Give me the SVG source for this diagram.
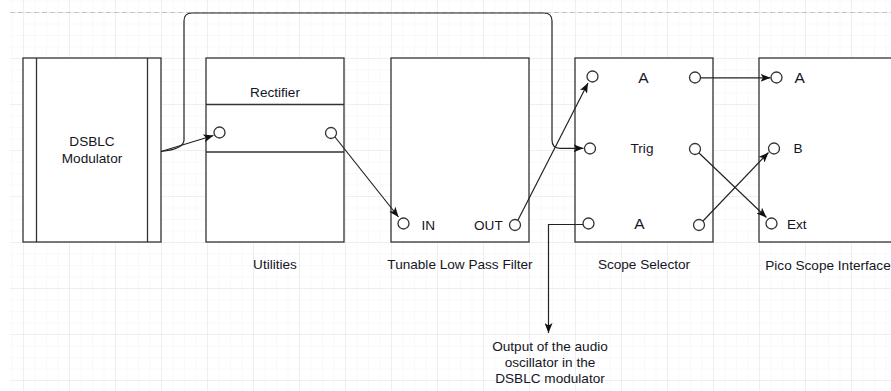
<svg xmlns="http://www.w3.org/2000/svg" width="891" height="391" viewBox="0 0 891 391">
<style>
.box{fill:#ffffff;stroke:#333333;stroke-width:1.3}
.ln{fill:none;stroke:#333333;stroke-width:1.3}
.port{fill:#ffffff;stroke:#333333;stroke-width:1.3}
.edge{fill:none;stroke:#222222;stroke-width:1.2}
text{font-family:"Liberation Sans",Arial,sans-serif;font-size:13.6px;fill:#151525}
.c{text-anchor:middle}
.big{font-size:15.5px}
</style>
<defs>
<pattern id="minor" patternUnits="userSpaceOnUse" x="11.5" y="0.5" width="11.5" height="11.5">
<path d="M0,0 H11.5 M0,0 V11.5" fill="none" stroke="#f3f3f3" stroke-width="1"/>
</pattern>
<pattern id="major" patternUnits="userSpaceOnUse" x="23" y="12" width="46" height="46">
<path d="M0,0 H46 M0,0 V46" fill="none" stroke="#e6e6e6" stroke-width="1"/>
</pattern>
<marker id="arr" markerUnits="userSpaceOnUse" markerWidth="10" markerHeight="8" refX="10" refY="4" orient="auto">
<path d="M0,0 L10,4 L0,8 L2.5,4 z" fill="#111111"/>
</marker>
</defs>
<rect x="0" y="0" width="891" height="391" fill="#ffffff"/>
<rect x="10" y="0" width="881" height="391" fill="url(#minor)"/>
<rect x="10" y="0" width="881" height="391" fill="url(#major)"/>
<line x1="10" y1="12.5" x2="891" y2="12.5" stroke="#c4c4c4" stroke-width="1" stroke-dasharray="5 3"/>

<g id="dsblc">
<rect class="box" x="23" y="58" width="138" height="184"/>
<line class="ln" x1="36.5" y1="58" x2="36.5" y2="242"/>
<line class="ln" x1="147.5" y1="58" x2="147.5" y2="242"/>
<text class="c" x="92" y="146">DSBLC</text>
<text class="c" x="92" y="162.5">Modulator</text>
</g>

<g id="utilities">
<rect class="box" x="206" y="58" width="138" height="184"/>
<line class="ln" x1="206" y1="104.5" x2="344" y2="104.5"/>
<line class="ln" x1="206" y1="152" x2="344" y2="152"/>
<text class="c" x="275" y="97">Rectifier</text>
<circle class="port" cx="219.5" cy="132.5" r="5.5"/>
<circle class="port" cx="331" cy="133" r="5.5"/>
<text class="c" x="275" y="269">Utilities</text>
</g>

<g id="tlpf">
<rect class="box" x="391" y="58" width="138" height="184"/>
<circle class="port" cx="403.5" cy="223.5" r="5.5"/>
<text x="421.5" y="229.5">IN</text>
<text x="474" y="230">OUT</text>
<circle class="port" cx="515" cy="225" r="5.5"/>
<text class="c" x="460" y="269">Tunable Low Pass Filter</text>
</g>

<g id="scope-selector">
<rect class="box" x="575" y="58" width="138" height="184"/>
<circle class="port" cx="592.5" cy="76.5" r="5.5"/>
<circle class="port" cx="590" cy="148.5" r="5.5"/>
<circle class="port" cx="588.5" cy="223.5" r="5.5"/>
<circle class="port" cx="695" cy="77.5" r="5.5"/>
<circle class="port" cx="695" cy="149" r="5.5"/>
<circle class="port" cx="699" cy="225" r="5.5"/>
<text class="c big" x="643.5" y="83">A</text>
<text class="c" x="642" y="153">Trig</text>
<text class="c big" x="639.5" y="229">A</text>
<text class="c" x="644" y="269">Scope Selector</text>
</g>

<g id="pico">
<rect class="box" x="759" y="58" width="140" height="184"/>
<circle class="port" cx="776.5" cy="77.5" r="5.5"/>
<circle class="port" cx="774" cy="148.5" r="5.5"/>
<circle class="port" cx="771.5" cy="223.5" r="5.5"/>
<text class="big" x="794.5" y="83">A</text>
<text x="793.5" y="153">B</text>
<text x="787" y="229">Ext</text>
<text class="c" x="828" y="270">Pico Scope Interface</text>
</g>

<g id="output-label">
<text class="c" x="550" y="351">Output of the audio</text>
<text class="c" x="550" y="367">oscillator in the</text>
<text class="c" x="550" y="383">DSBLC modulator</text>
</g>

<g id="connectors">
<path class="edge" marker-end="url(#arr)" d="M161,151.5 L213.5,135.5"/>
<path class="edge" marker-end="url(#arr)" d="M161,151.5 Q184,149 184,140 V21 Q184,13 192,13 H544 Q552,13 552,21 V140 Q552,148.3 560,148.3 H583.5"/>
<path class="edge" marker-end="url(#arr)" d="M335,137 L398.5,217"/>
<path class="edge" marker-end="url(#arr)" d="M518,220 L588,83"/>
<path class="edge" marker-end="url(#arr)" d="M583,224.5 H548.5 V333"/>
<path class="edge" marker-end="url(#arr)" d="M700.5,77.8 H770.5"/>
<path class="edge" marker-end="url(#arr)" d="M699,153 L766.5,217.5"/>
<path class="edge" marker-end="url(#arr)" d="M703,221 L768.5,152.5"/>
</g>
</svg>
